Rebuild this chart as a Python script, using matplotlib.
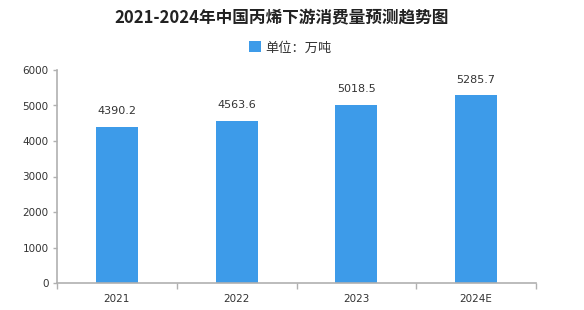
import matplotlib
matplotlib.use("Agg")
import matplotlib.pyplot as plt
import numpy as np

plt.rcParams['font.family'] = ['Noto Sans CJK SC', 'DejaVu Sans']

categories = ["2021", "2022", "2023", "2024E"]
values = [4390.2, 4563.6, 5018.5, 5285.7]
yticks = [0, 1000, 2000, 3000, 4000, 5000, 6000]
title = "2021-2024年中国丙烯下游消费量预测趋势图"
legend_label = "单位：万吨"

bar_color = "#3d9be9"
axis_color = "#b0b0b0"
text_color = "#333333"

fig = plt.figure(figsize=(5.84, 3.10), dpi=100)
ax = fig.add_axes([57/584, 1-283/310, (536-57)/584, (283-70)/310])

x = np.arange(len(categories))
bars = ax.bar(x, values, width=0.35, color=bar_color, label=legend_label, zorder=2)
for xi, v in zip(x, values):
    ax.text(xi, v + 300, f"{v:.1f}", ha='center', va='bottom', fontsize=8, color=text_color,
            family=['DejaVu Sans'])

ax.set_xlim(-0.5, len(categories) - 0.5)
ax.set_ylim(0, 6000)
ax.set_yticks(yticks)
ax.set_yticklabels([str(t) for t in yticks], fontsize=7.5, color=text_color, family=['DejaVu Sans'])
ax.set_xticks(x)
ax.set_xticklabels(categories, fontsize=7.5, color=text_color, family=['DejaVu Sans'])
ax.tick_params(axis='x', length=0, pad=8)
ax.set_xticks(np.arange(len(categories) + 1) - 0.5, minor=True)
ax.tick_params(axis='x', which='minor', length=4, color=axis_color, width=1)
ax.tick_params(axis='y', length=3, color=axis_color, width=1, pad=3)

for s in ['top', 'right']:
    ax.spines[s].set_visible(False)
for s in ['left', 'bottom']:
    ax.spines[s].set_color(axis_color)
    ax.spines[s].set_linewidth(1.2)

fig.text(282/584, 1-18/310, title, ha='center', va='center', fontsize=12, fontweight='bold', color='#222222')
fig.legend(handles=[bars], labels=[legend_label], loc='center', bbox_to_anchor=(290/584, 1-48/310),
           frameon=False, fontsize=9.5, handlelength=0.9, handleheight=0.9, handletextpad=0.3,
           labelcolor=text_color)

fig.savefig("out.png", dpi=100)
